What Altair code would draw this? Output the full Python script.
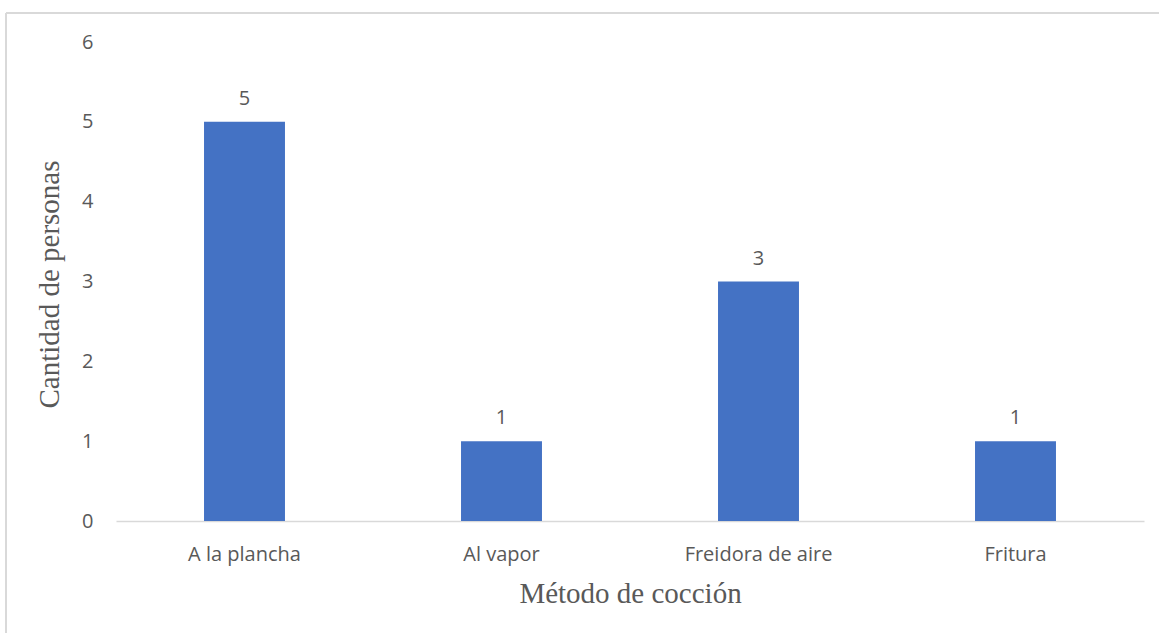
import altair as alt
import pandas as pd

# Cooking methods and number of people who chose each one
metodos = ["A la plancha", "Al vapor", "Freidora de aire", "Fritura"]
personas = [5, 1, 3, 1]
y_ticks = [0, 1, 2, 3, 4, 5, 6]

df = pd.DataFrame({"Método": metodos, "Personas": personas})

TEXT = "#595959"
LINE = "#D9D9D9"
BAR = "#4472C4"
SANS = "Open Sans"
SERIF = "Liberation Serif"

x_enc = alt.X(
    "Método:N",
    sort=metodos,
    scale=alt.Scale(paddingInner=0.685, paddingOuter=0.3425),
    axis=alt.Axis(
        title="Método de cocción",
        labelAngle=0,
        labelFont=SANS,
        labelFontSize=20,
        labelColor=TEXT,
        labelPadding=23,
        ticks=False,
        domainColor=LINE,
        domainWidth=1.5,
        titleFont=SERIF,
        titleFontSize=29,
        titleFontWeight="normal",
        titleColor=TEXT,
        titleY=81,
        titleBaseline="alphabetic",
    ),
)
y_enc = alt.Y(
    "Personas:Q",
    scale=alt.Scale(domain=[0, 6], nice=False),
    axis=alt.Axis(
        title="Cantidad de personas",
        values=y_ticks,
        format="d",
        labelFont=SANS,
        labelFontSize=20,
        labelColor=TEXT,
        labelPadding=23,
        ticks=False,
        domain=False,
        grid=False,
        titleFont=SERIF,
        titleFontSize=29,
        titleFontWeight="normal",
        titleColor=TEXT,
        titleX=-58,
        titleY=242,
        titleAngle=-90,
        titleBaseline="alphabetic",
        titleAlign="center",
    ),
)

bars = alt.Chart(df).mark_bar(color=BAR).encode(x=x_enc, y=y_enc)

labels = alt.Chart(df).mark_text(
    font=SANS, fontSize=20, color=TEXT, baseline="alphabetic", dy=-17
).encode(x=alt.X("Método:N", sort=metodos), y="Personas:Q", text="Personas:Q")

# Light frame around the chart (top and left edges)
frame_top = alt.Chart(df).mark_rule(color=LINE, strokeWidth=2).encode(
    x=alt.value(-110), x2=alt.value(1045), y=alt.value(-29)
)
frame_left = alt.Chart(df).mark_rule(color=LINE, strokeWidth=2).encode(
    x=alt.value(-110), y=alt.value(-29), y2=alt.value(595)
)

chart = (
    alt.layer(bars, labels, frame_top, frame_left)
    .properties(
        width=1028,
        height=479,
        autosize=alt.AutoSizeParams(type="none"),
        padding={"left": 116, "top": 42, "right": 15, "bottom": 112},
        background="white",
    )
    .configure_view(stroke=None)
)

chart.save("out.html", embed_options={"renderer": "svg", "actions": False})
